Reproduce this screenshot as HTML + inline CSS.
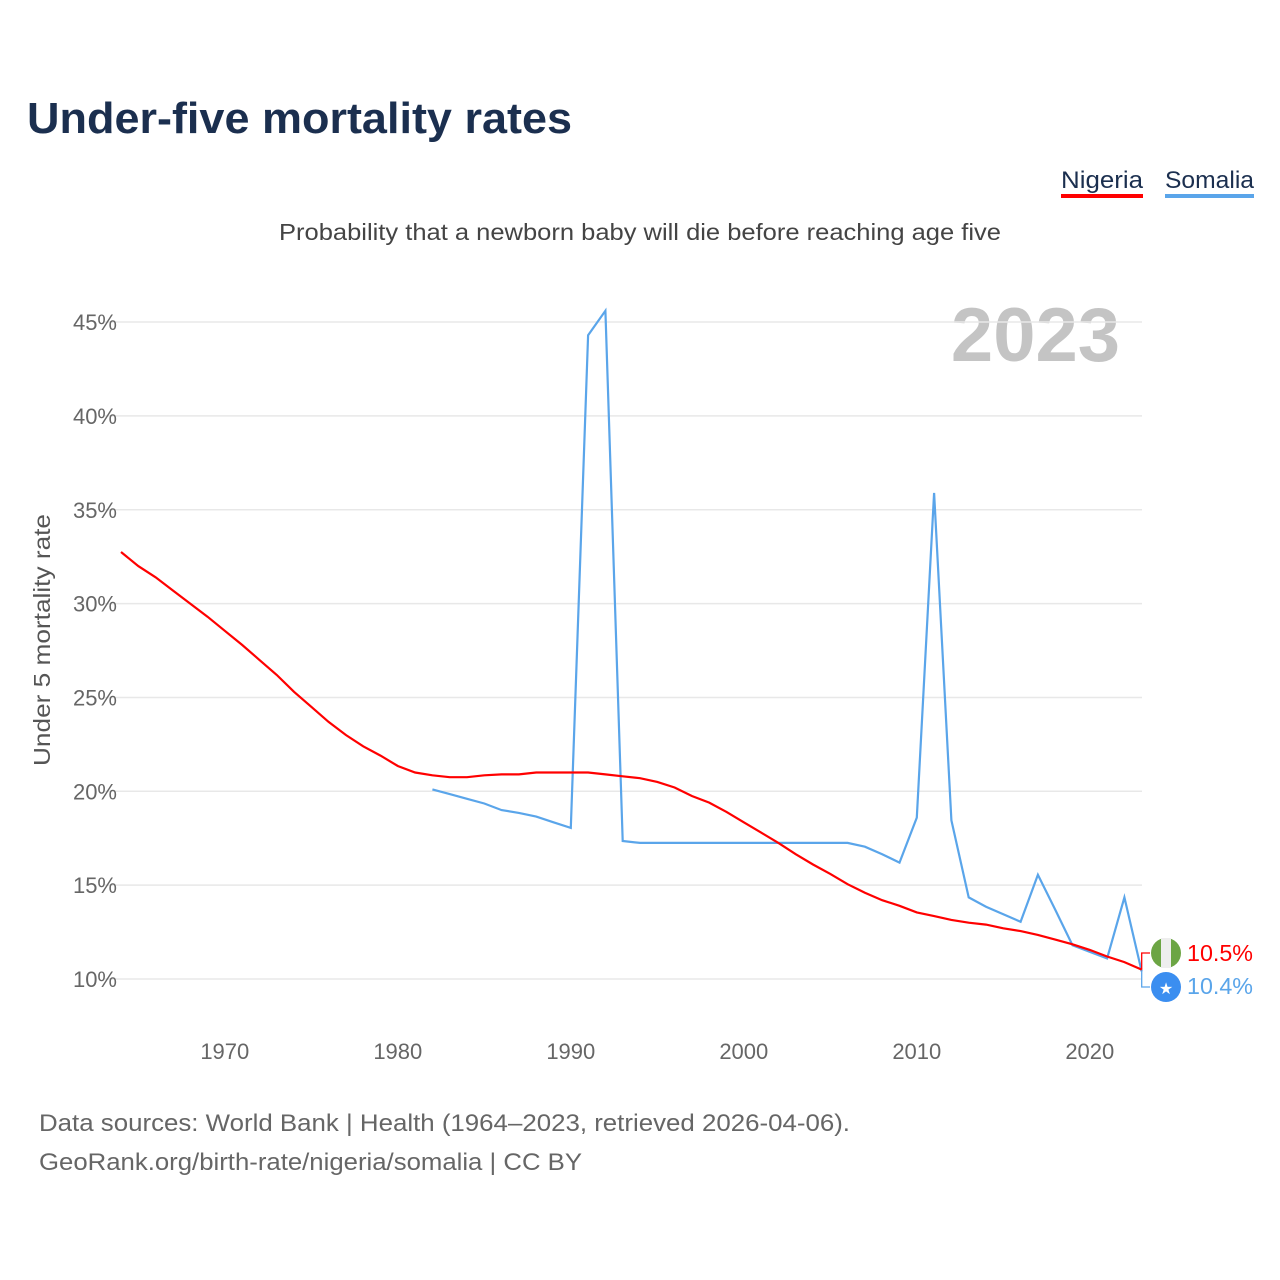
<!DOCTYPE html>
<html><head><meta charset="utf-8">
<style>
body{margin:0;background:#fff;font-family:"Liberation Sans",sans-serif;}
#wrap{position:relative;width:1280px;height:1280px;overflow:hidden;}
</style></head>
<body>
<div id="wrap">
<svg id="chart" width="1280" height="1280">
<text x="27" y="133" font-size="44" font-weight="bold" fill="#1b2f4f" textLength="545" lengthAdjust="spacingAndGlyphs">Under-five mortality rates</text>
<g>
<text x="1061" y="188" font-size="24" fill="#1b2f4f" textLength="82" lengthAdjust="spacingAndGlyphs">Nigeria</text>
<rect x="1061" y="194" width="82" height="4" fill="#ff0000"/>
<text x="1165" y="188" font-size="24" fill="#1b2f4f" textLength="89" lengthAdjust="spacingAndGlyphs">Somalia</text>
<rect x="1165" y="194" width="89" height="4" fill="#5aa5ea"/>
</g>
<text x="279" y="240" font-size="23" fill="#444" textLength="722" lengthAdjust="spacingAndGlyphs">Probability that a newborn baby will die before reaching age five</text>
<text x="1120" y="361" font-size="76" font-weight="bold" fill="#c4c4c4" text-anchor="end">2023</text>
<text transform="translate(50,640) rotate(-90)" font-size="23" fill="#555" text-anchor="middle" textLength="252" lengthAdjust="spacingAndGlyphs">Under 5 mortality rate</text>
<g id="grid"></g><g id="yticks"></g><g id="xticks"></g><g id="series"></g><g id="ends"></g>
<text x="39" y="1131" font-size="24" fill="#666" textLength="811" lengthAdjust="spacingAndGlyphs">Data sources: World Bank | Health (1964–2023, retrieved 2026-04-06).</text>
<text x="39" y="1170" font-size="24" fill="#666" textLength="543" lengthAdjust="spacingAndGlyphs">GeoRank.org/birth-rate/nigeria/somalia | CC BY</text>
</svg>
</div>
<script>
const years=[];for(let y=1964;y<=2023;y++)years.push(y);
const nigeria=[32.75,32.0,31.4,30.7,30.0,29.3,28.55,27.8,27.0,26.2,25.3,24.5,23.7,23.0,22.4,21.9,21.35,21.0,20.85,20.75,20.75,20.85,20.9,20.9,21.0,21.0,21.0,21.0,20.9,20.8,20.7,20.5,20.2,19.75,19.4,18.9,18.35,17.8,17.25,16.65,16.1,15.6,15.05,14.6,14.2,13.9,13.55,13.35,13.15,13.0,12.9,12.7,12.55,12.35,12.1,11.85,11.55,11.2,10.9,10.5];
const somalia=[null,null,null,null,null,null,null,null,null,null,null,null,null,null,null,null,null,null,20.1,19.85,19.6,19.35,19.0,18.85,18.65,18.35,18.05,44.3,45.6,17.35,17.25,17.25,17.25,17.25,17.25,17.25,17.25,17.25,17.25,17.25,17.25,17.25,17.25,17.05,16.65,16.2,18.6,35.9,18.45,14.35,13.85,13.45,13.05,15.55,13.7,11.8,11.45,11.1,14.35,10.4];
const yTicks=[10,15,20,25,30,35,40,45];
const xTicks=[1970,1980,1990,2000,2010,2020];
const endLabels=["10.5%","10.4%"];
const NS="http://www.w3.org/2000/svg";
const X=y=>121+(y-1964)*17.3;
const Y=v=>979-(v-10)*18.77;
function mk(t,a,p){const e=document.createElementNS(NS,t);for(const k in a)e.setAttribute(k,a[k]);p.appendChild(e);return e;}
const grid=document.getElementById('grid'),yt=document.getElementById('yticks'),xt=document.getElementById('xticks');
yTicks.forEach(v=>{
 const l=mk('line',{x1:105,x2:1142,y1:Y(v),y2:Y(v),stroke:'#e8e8e8','stroke-width':1.5},grid);
 
 
 const t=mk('text',{x:117,y:Y(v)+8,'font-size':22,fill:'#666','text-anchor':'end'},yt);
 t.textContent=v+'%';
 
 
});
xTicks.forEach(v=>{
 const t=mk('text',{x:X(v),y:1059,'font-size':22,fill:'#666','text-anchor':'middle'},xt);
 t.textContent=v;
 
 
});
function path(vals){let d='',pen=false;vals.forEach((v,i)=>{if(v==null){pen=false;return;}d+=(pen?'L':'M')+X(years[i]).toFixed(1)+' '+Y(v).toFixed(1);pen=true;});return d;}
const s=document.getElementById('series');
const pS=mk('path',{d:path(somalia),fill:'none',stroke:'#5aa5ea','stroke-width':2.2,'stroke-linejoin':'miter'},s);


const pN=mk('path',{d:path(nigeria),fill:'none',stroke:'#ff0000','stroke-width':2.2},s);


const e=document.getElementById('ends');
const xe=X(2023);
const bn=mk('path',{d:`M${xe} ${Y(nigeria[59])} V953 H1150`,fill:'none',stroke:'#ff0000','stroke-width':1.3},e);


const bs=mk('path',{d:`M${xe} ${Y(somalia[59])} V987 H1150`,fill:'none',stroke:'#5aa5ea','stroke-width':1.3},e);


const fg=mk('g',{},e);


mk('circle',{cx:1166,cy:953,r:15,fill:'#6ca544'},fg);
mk('rect',{x:1161,y:938,width:10,height:30,fill:'#eee'},fg);
const sg=mk('g',{},e);


mk('circle',{cx:1166,cy:987,r:15,fill:'#3b8ef0'},sg);
const st=mk('text',{x:1166,y:994,'font-size':16,fill:'#fff','text-anchor':'middle'},sg);st.textContent='★';
const t1=mk('text',{x:1187,y:961,'font-size':23,fill:'#ff0000',textLength:66,lengthAdjust:'spacingAndGlyphs'},e);t1.textContent=endLabels[0];


const t2=mk('text',{x:1187,y:994,'font-size':23,fill:'#5aa5ea',textLength:66,lengthAdjust:'spacingAndGlyphs'},e);t2.textContent=endLabels[1];


</script>
</body></html>
